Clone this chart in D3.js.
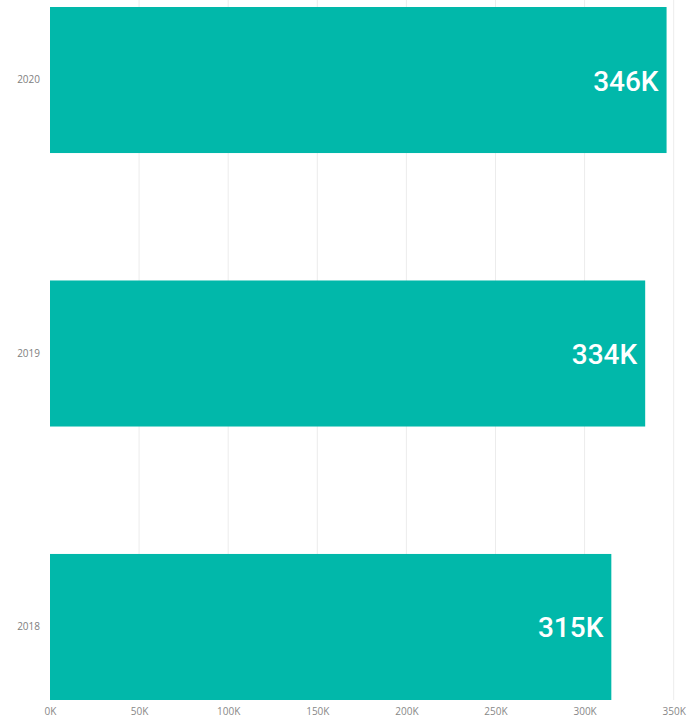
<!DOCTYPE html>
<html>
<head>
<meta charset="utf-8">
<script src="https://cdn.jsdelivr.net/npm/d3@7"></script>
<style>
  html, body { margin: 0; padding: 0; background: #fff; }
  svg { display: block; }
</style>
</head>
<body>
<svg id="chart" width="687" height="720"></svg>
<script>
// Yearly totals, top to bottom
const years = ["2020", "2019", "2018"];
const totals = [346000, 334000, 315000];
const tickValues = [0, 50000, 100000, 150000, 200000, 250000, 300000, 350000];

const svg = d3.select("#chart");
const margin = { left: 50, right: 13, top: 7, bottom: 20 };
const width = 687, height = 720;

const x = d3.scaleLinear()
  .domain([0, 350000])
  .range([margin.left, 673.7]);

const y = d3.scaleBand()
  .domain(years)
  .range([margin.top, height - margin.bottom])
  .paddingInner(0.466)
  .paddingOuter(0);

const fmt = v => Math.round(v / 1000) + "K";

// vertical gridlines
svg.append("g")
  .selectAll("line")
  .data(tickValues.slice(1))
  .join("line")
  .attr("x1", d => x(d)).attr("x2", d => x(d))
  .attr("y1", 0).attr("y2", height - margin.bottom)
  .attr("stroke", "#ececec")
  .attr("stroke-width", 1);

// bars
svg.append("g")
  .selectAll("rect")
  .data(years.map((yr, i) => ({ yr, v: totals[i] })))
  .join("rect")
  .attr("x", x(0))
  .attr("y", d => y(d.yr))
  .attr("width", d => x(d.v) - x(0))
  .attr("height", y.bandwidth())
  .attr("fill", "#01B8AA");

// value labels inside bar ends
svg.append("g")
  .selectAll("text")
  .data(years.map((yr, i) => ({ yr, v: totals[i] })))
  .join("text")
  .attr("x", d => x(d.v) - 8)
  .attr("y", d => y(d.yr) + y.bandwidth() / 2 + 1)
  .attr("text-anchor", "end")
  .attr("dominant-baseline", "central")
  .attr("fill", "#ffffff")
  .style("font-family", "Roboto, 'DejaVu Sans', sans-serif")
  .style("font-weight", "500")
  .style("font-size", "28px")
  .text(d => fmt(d.v));

// category axis
const yAxis = svg.append("g")
  .attr("transform", `translate(${margin.left},0)`)
  .call(d3.axisLeft(y).tickSize(0).tickPadding(10));
yAxis.select(".domain").remove();
yAxis.selectAll("text")
  .attr("dy", "0.32em")
  .attr("fill", "#808080")
  .style("font-family", "'Open Sans', 'Segoe UI', sans-serif")
  .style("font-size", "10px");

// value axis
const xAxis = svg.append("g")
  .attr("transform", `translate(0,${height - margin.bottom})`)
  .call(d3.axisBottom(x).tickValues(tickValues).tickFormat(fmt).tickSize(0).tickPadding(8));
xAxis.select(".domain").remove();
xAxis.selectAll("text")
  .attr("fill", "#888")
  .style("font-family", "'Open Sans', 'Segoe UI', sans-serif")
  .style("font-size", "10px");
</script>
</body>
</html>
